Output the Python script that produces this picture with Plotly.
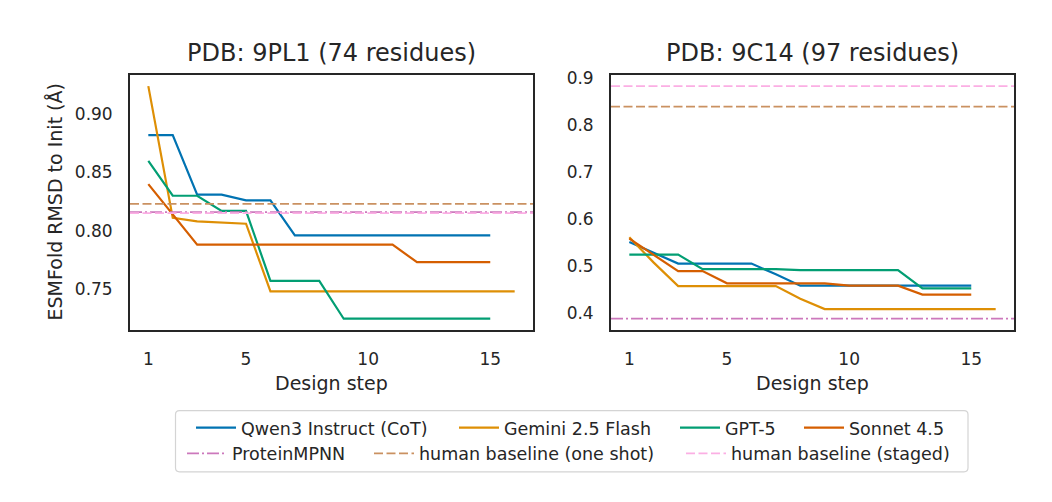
import plotly.graph_objects as go

# ---------------- data ----------------
steps_15 = list(range(1, 16))
steps_16 = list(range(1, 17))

# PDB 9PL1
qwen_9pl1 = [0.882, 0.882, 0.831, 0.831, 0.826, 0.826, 0.796, 0.796, 0.796, 0.796,
             0.796, 0.796, 0.796, 0.796, 0.796]
gemini_9pl1 = [0.924, 0.811, 0.808, 0.807, 0.806, 0.748, 0.748, 0.748, 0.748, 0.748,
               0.748, 0.748, 0.748, 0.748, 0.748, 0.748]
gpt5_9pl1 = [0.860, 0.830, 0.830, 0.817, 0.817, 0.757, 0.757, 0.757, 0.7245, 0.7245,
             0.7245, 0.7245, 0.7245, 0.7245, 0.7245]
sonnet_9pl1 = [0.840, 0.814, 0.788, 0.788, 0.788, 0.788, 0.788, 0.788, 0.788, 0.788,
               0.788, 0.773, 0.773, 0.773, 0.773]
baseline_mpnn_9pl1 = 0.816
baseline_oneshot_9pl1 = 0.823
baseline_staged_9pl1 = 0.815

# PDB 9C14
qwen_9c14 = [0.551, 0.528, 0.505, 0.505, 0.505, 0.505, 0.482, 0.458, 0.458, 0.458,
             0.458, 0.458, 0.458, 0.458, 0.458]
gemini_9c14 = [0.561, 0.507, 0.457, 0.457, 0.457, 0.457, 0.457, 0.430, 0.408, 0.408,
               0.408, 0.408, 0.408, 0.408, 0.408, 0.408]
gpt5_9c14 = [0.524, 0.524, 0.524, 0.493, 0.493, 0.493, 0.493, 0.491, 0.491, 0.491,
             0.491, 0.491, 0.452, 0.452, 0.452]
sonnet_9c14 = [0.558, 0.523, 0.489, 0.489, 0.463, 0.463, 0.463, 0.463, 0.463, 0.458,
               0.458, 0.458, 0.439, 0.439, 0.439]
baseline_mpnn_9c14 = 0.3875
baseline_oneshot_9c14 = 0.8395
baseline_staged_9c14 = 0.883

panel_titles = ["PDB: 9PL1 (74 residues)", "PDB: 9C14 (97 residues)"]
x_ticks = [1, 5, 10, 15]
y_ticks_9pl1 = [0.75, 0.80, 0.85, 0.90]
y_ticks_9c14 = [0.4, 0.5, 0.6, 0.7, 0.8, 0.9]

model_names = ["Qwen3 Instruct (CoT)", "Gemini 2.5 Flash", "GPT-5", "Sonnet 4.5"]
baseline_names = ["ProteinMPNN", "human baseline (one shot)", "human baseline (staged)"]

# ---------------- style ----------------
OFF = 8  # page body margin
W, H = 1052 - 2 * OFF, 502 - 2 * OFF
FONT = "DejaVu Sans"
TXT = "#262626"
model_colors = ["#0173b2", "#de8f05", "#029e73", "#d55e00"]
baseline_colors = ["#cc78bc", "#ca9161", "#fbafe4"]
baseline_dash = ["12px,3px,2px,3px", "9px,3.5px", "9px,3.5px"]

def px_x(p):
    return (p - OFF) / W

def px_y(p):
    return 1 - (p - OFF) / H

dom_left = [px_x(130), px_x(533)]
dom_right = [px_x(611), px_x(1014)]
dom_y = [px_y(328.3), px_y(69.3)]

fig = go.Figure()

panels = [
    dict(xa="x", ya="y", series=[qwen_9pl1, gemini_9pl1, gpt5_9pl1, sonnet_9pl1],
         base=[baseline_mpnn_9pl1, baseline_oneshot_9pl1, baseline_staged_9pl1]),
    dict(xa="x2", ya="y2", series=[qwen_9c14, gemini_9c14, gpt5_9c14, sonnet_9c14],
         base=[baseline_mpnn_9c14, baseline_oneshot_9c14, baseline_staged_9c14]),
]

legend_ids = ["legend", "legend2", "legend3", "legend4", "legend5", "legend6", "legend7"]

for pi, p in enumerate(panels):
    for si, ys in enumerate(p["series"]):
        xs = steps_16 if len(ys) == 16 else steps_15
        fig.add_trace(go.Scatter(
            x=xs, y=ys, mode="lines", name=model_names[si],
            line=dict(color=model_colors[si], width=2.2),
            xaxis=p["xa"], yaxis=p["ya"],
            showlegend=(pi == 0), legend=legend_ids[si], legendgroup=model_names[si],
        ))
    for bi, yv in enumerate(p["base"]):
        fig.add_shape(
            type="line", xref=p["xa"] + " domain", yref=p["ya"],
            x0=0, x1=1, y0=yv, y1=yv,
            line=dict(color=baseline_colors[bi], width=1.7, dash=baseline_dash[bi]),
            name=baseline_names[bi], showlegend=(pi == 0),
            legend=legend_ids[4 + bi], legendgroup=baseline_names[bi],
        )

def yrange(series, base):
    vals = [v for s in series for v in s] + list(base)
    lo, hi = min(vals), max(vals)
    pad = 0.05 * (hi - lo)
    return [lo - pad, hi + pad]

axis_common = dict(
    showline=True, mirror=True, linecolor="#262626", linewidth=1.8,
    showgrid=False, zeroline=False, ticks="outside", ticklen=12,
    tickcolor="rgba(0,0,0,0)", tickfont=dict(family=FONT, size=17, color=TXT),
)

fig.update_layout(
    width=W, height=H, margin=dict(l=0, r=0, t=0, b=0),
    paper_bgcolor="white", plot_bgcolor="white",
    font=dict(family=FONT, color=TXT),
    xaxis=dict(domain=dom_left, range=[0.25, 16.75], tickvals=x_ticks, anchor="y", **axis_common),
    yaxis=dict(domain=dom_y, range=yrange(panels[0]["series"], panels[0]["base"]),
               tickvals=y_ticks_9pl1, tickformat=".2f", anchor="x", **axis_common),
    xaxis2=dict(domain=dom_right, range=[0.25, 16.75], tickvals=x_ticks, anchor="y2", **axis_common),
    yaxis2=dict(domain=dom_y, range=yrange(panels[1]["series"], panels[1]["base"]),
                tickvals=y_ticks_9c14, tickformat=".1f", anchor="x2", **axis_common),
)

# legends: one per entry, laid out like the reference
legend_pos = [  # (entry start px, row centre px)
    (196, 427), (459, 427), (680, 427), (804, 427),
    (187, 453), (374, 453), (686, 453),
]
leg_layout = {}
for lid, (lx, ly) in zip(legend_ids, legend_pos):
    leg_layout[lid] = dict(
        x=px_x(lx - 5), y=px_y(ly), xanchor="left", yanchor="middle",
        orientation="h", bgcolor="rgba(0,0,0,0)", borderwidth=0,
        font=dict(family=FONT, size=17.5, color=TXT), itemwidth=40,
    )
fig.update_layout(**leg_layout)

# legend frame (rounded)
x0, x1, y0, y1 = 175.5, 968, 409.5, 471.5
r = 4
path = (f"M {px_x(x0 + r)},{px_y(y0)} L {px_x(x1 - r)},{px_y(y0)} "
        f"Q {px_x(x1)},{px_y(y0)} {px_x(x1)},{px_y(y0 + r)} "
        f"L {px_x(x1)},{px_y(y1 - r)} Q {px_x(x1)},{px_y(y1)} {px_x(x1 - r)},{px_y(y1)} "
        f"L {px_x(x0 + r)},{px_y(y1)} Q {px_x(x0)},{px_y(y1)} {px_x(x0)},{px_y(y1 - r)} "
        f"L {px_x(x0)},{px_y(y0 + r)} Q {px_x(x0)},{px_y(y0)} {px_x(x0 + r)},{px_y(y0)} Z")
fig.add_shape(type="path", path=path, xref="paper", yref="paper",
              line=dict(color="#d4d4d4", width=1.2), fillcolor="rgba(0,0,0,0)", layer="below")

# titles and axis labels
ann = [
    dict(text=panel_titles[0], x=(dom_left[0] + dom_left[1]) / 2, y=px_y(47), size=24),
    dict(text=panel_titles[1], x=(dom_right[0] + dom_right[1]) / 2, y=px_y(47), size=24),
    dict(text="Design step", x=(dom_left[0] + dom_left[1]) / 2, y=px_y(382), size=19),
    dict(text="Design step", x=(dom_right[0] + dom_right[1]) / 2, y=px_y(382), size=19),
]
for a in ann:
    fig.add_annotation(text=a["text"], x=a["x"], y=a["y"], xref="paper", yref="paper",
                       xanchor="center", yanchor="middle", showarrow=False,
                       font=dict(family=FONT, size=a["size"], color=TXT))
fig.add_annotation(text="ESMFold RMSD to Init (Å)", x=px_x(55), y=(dom_y[0] + dom_y[1]) / 2,
                   xref="paper", yref="paper", xanchor="center", yanchor="middle",
                   textangle=-90, showarrow=False,
                   font=dict(family=FONT, size=19, color=TXT))

fig.write_html("out.html")
